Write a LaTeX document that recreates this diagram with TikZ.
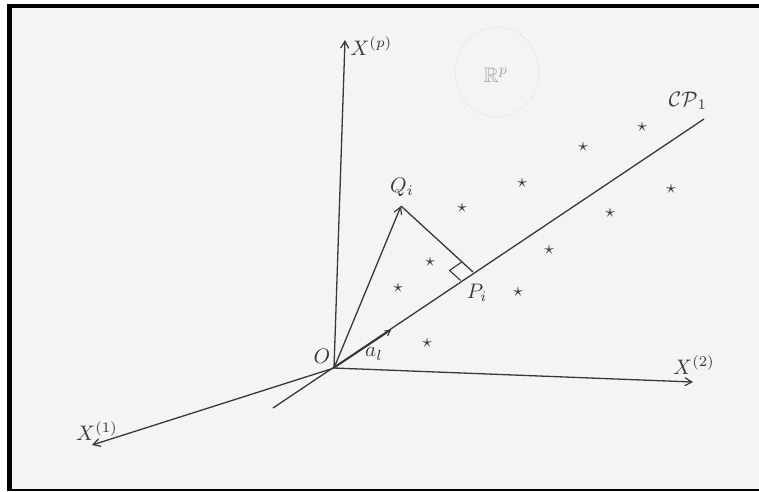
\documentclass[tikz,border=0pt]{standalone}
\usepackage{amsmath,amssymb}
\usetikzlibrary{arrows.meta,calc}
\definecolor{paper}{HTML}{F4F4F4}
\definecolor{ink}{HTML}{383838}
\tikzset{
  axis/.style={draw=ink, line width=1.3pt, -{Straight Barb[length=7pt,width=8pt,line width=1.2pt]}},
  smallarrow/.style={draw=ink, line width=1.3pt, -{Straight Barb[length=5pt,width=6pt,line width=1.1pt]}},
  plain/.style={draw=ink, line width=1.3pt},
  lbl/.style={text=ink, inner sep=0pt, scale=2.1},
  pt/.style={text=ink, inner sep=0pt, scale=1.9},
}
\begin{document}
\begin{tikzpicture}[x=1pt,y=-1pt]
\useasboundingbox (0,0) rectangle (759,491);
\fill[white] (0,0) rectangle (759,491);
\fill[black] (7,4) rectangle (759,491);
\fill[paper] (12,8) rectangle (759,489);

% faint region outline
\draw[gray!35, dotted, line width=0.8pt] (497,72) ellipse [x radius=42, y radius=45];

% points
\coordinate (O) at (334,368);
\coordinate (Xp) at (345,40);
\coordinate (X2) at (693,382);
\coordinate (X1) at (92,445);
\coordinate (CPs) at (273,408);
\coordinate (CPe) at (704,119);
\coordinate (Q) at (401,206);
\coordinate (P) at (473,272);
\coordinate (A) at (391,330);

% axes
\draw[axis] (O) -- (Xp);
\draw[axis] (O) -- (X2);
\draw[axis] (O) -- (X1);
% principal component line
\draw[plain] (CPs) -- (CPe);
\draw[smallarrow] (O) -- (A);
% vector OQ and projection
\draw[axis] (O) -- (Q);
\draw[plain] (Q) -- (P);
% right-angle mark
\coordinate (RA) at ($(P)!15pt!(O)$);
\coordinate (RB) at ($(P)!15pt!(Q)$);
\draw[ink, line width=1.1pt] (RA) -- ($(RA)+(RB)-(P)$) -- (RB);

% stars
\foreach \n/\x/\y in {s1/642/127, s2/583/147, s3/522/183, s4/671/189, s5/462/208,
  s6/610/213, s7/549/250, s8/430/262, s9/398/288, s10/518/292, s11/427/343}
  \node[pt] (\n) at (\x,\y) {$\star$};

% labels
\node[lbl, anchor=west] (lXp) at (350,46) {$X^{(p)}$};
\node[lbl, text=gray!70] (lR) at (496,75) {$\mathbb{R}^p$};
\node[lbl] (lCP) at (688,101) {$\mathcal{CP}_1$};
\node[lbl] (lQ) at (402,187) {$Q_i$};
\node[lbl] (lP) at (477,293) {$P_i$};
\node[lbl] (lO) at (322,356) {$O$};
\node[lbl] (la) at (374,354) {$a_l$};
\node[lbl] (lX2) at (694,365) {$X^{(2)}$};
\node[lbl] (lX1) at (97,431) {$X^{(1)}$};
\end{tikzpicture}
\end{document}
